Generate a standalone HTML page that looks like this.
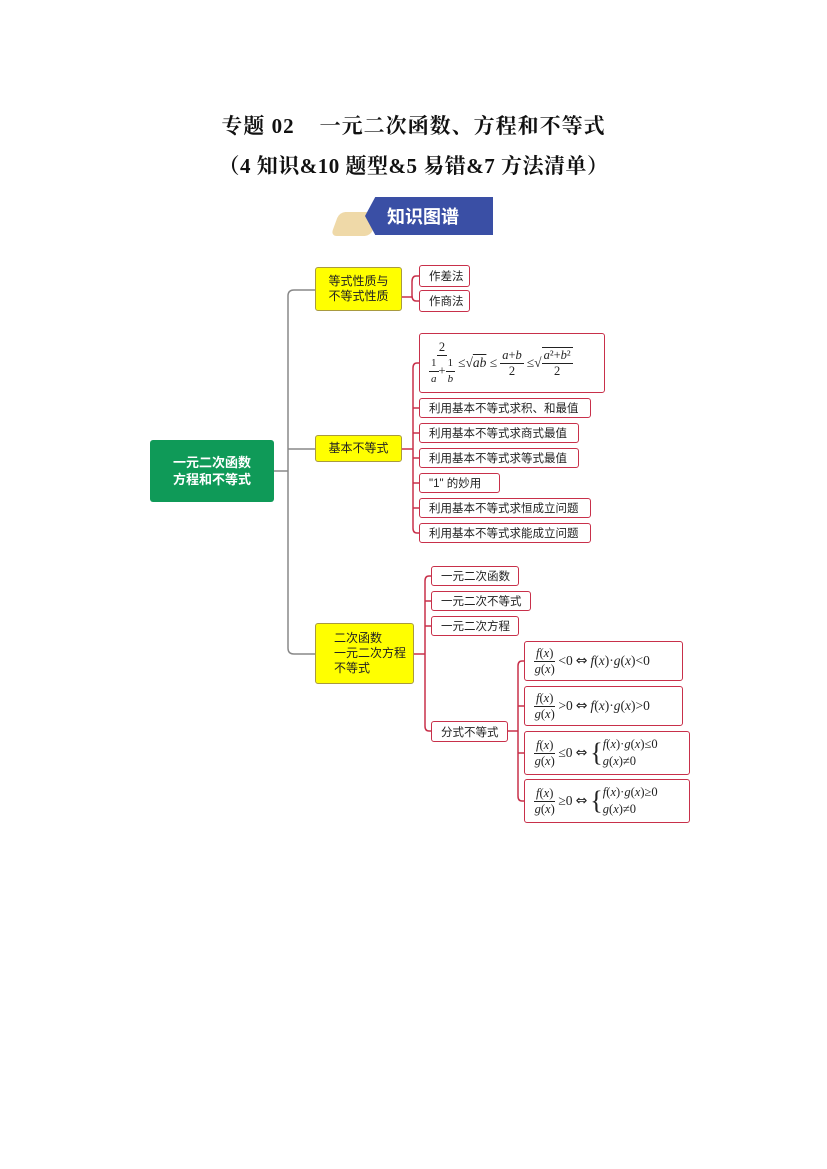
<!DOCTYPE html>
<html><head><meta charset="utf-8"><style>
body{margin:0;width:827px;height:1169px;background:#fff;position:relative;font-family:"Liberation Sans","Noto Sans CJK SC",sans-serif;overflow:hidden}
.a{position:absolute;box-sizing:border-box}
.t{font-family:"Liberation Serif","Noto Serif CJK SC",serif;font-weight:bold;font-size:21px;left:0;width:827px;text-align:center;color:#111}
.y{background:#ffff00;border:1px solid #a89a40;border-radius:3px;font-size:12px;color:#222;display:flex;align-items:center;justify-content:center;text-align:left;line-height:15px}
.r{border:1.5px solid #c8304a;border-radius:3px;background:#fff;font-size:11.5px;color:#222;padding-left:9px;display:flex;align-items:center;white-space:nowrap}
.m{font-family:"Liberation Serif",serif;font-size:13.5px;color:#222;display:flex;align-items:center;white-space:nowrap}
.fr{display:inline-flex;flex-direction:column;align-items:center;vertical-align:middle;margin:0 3px;font-size:12.5px;line-height:15px}
.fr>span:first-child{border-bottom:1px solid #222;padding:0 2px}
.eq{font-family:"DejaVu Sans",sans-serif;font-size:14px;margin:0 3px}
i{font-style:italic}
</style></head><body>
<div class="a t" style="top:110px;letter-spacing:1px">专题 02&nbsp;&nbsp;&nbsp; 一元二次函数、方程和不等式</div>
<div class="a t" style="top:150px;letter-spacing:0.5px">（4 知识&amp;10 题型&amp;5 易错&amp;7 方法清单）</div>
<!-- banner -->
<div class="a" style="left:335px;top:212px;width:40px;height:24px;background:#efd9a8;border-radius:6px;transform:skewX(-20deg)"></div>
<div class="a" style="left:365px;top:197px;width:128px;height:38px;background:#3a4fa5;clip-path:polygon(8% 0,100% 0,100% 100%,8% 100%,0 50%);color:#fff;font-weight:bold;font-size:18px;display:flex;align-items:center;padding-left:22px">知识图谱</div>

<svg class="a" style="left:0;top:0" width="827" height="1169">
<g fill="none" stroke="#888" stroke-width="1.5">
<path d="M274 471H288M315 290H294Q288 290 288 296V648Q288 654 294 654H315M288 449H315"/>
</g>
<g fill="none" stroke="#c8304a" stroke-width="1.5">
<path d="M402 297H412M419 276H416Q412 276 412 282V295Q412 301 416 301H419"/>
<path d="M402 449H413M419 363H417Q413 363 413 368V528Q413 533 417 533H419M413 408H419M413 433H419M413 458H419M413 483H419M413 508H419"/>
<path d="M414 654H425M431 576H429Q425 576 425 581V726Q425 731 429 731H431M425 601H431M425 626H431"/>
<path d="M508 731H518M524 661H522Q518 661 518 666V796Q518 801 522 801H524M518 706H524M518 753H524"/>
</g>
</svg>

<div class="a" style="left:150px;top:440px;width:124px;height:62px;background:#0f9a58;border-radius:3px;color:#fff;font-weight:bold;font-size:13px;line-height:17px;display:flex;align-items:center;justify-content:center;text-align:right">一元二次函数<br>方程和不等式</div>

<div class="a y" style="left:315px;top:267px;width:87px;height:44px">等式性质与<br>不等式性质</div>
<div class="a y" style="left:315px;top:435px;width:87px;height:27px">基本不等式</div>
<div class="a y" style="left:315px;top:623px;width:99px;height:61px;justify-content:flex-start;padding-left:18px">二次函数<br>一元二次方程<br>不等式</div>

<div class="a r" style="left:419px;top:265px;width:51px;height:22px">作差法</div>
<div class="a r" style="left:419px;top:290px;width:51px;height:22px">作商法</div>

<div class="a r m" style="left:419px;top:333px;width:186px;height:60px;padding-left:6px">
<span class="fr"><span>2</span><span><span class="fr" style="font-size:11px;margin:0"><span>1</span><i>a</i></span>+<span class="fr" style="font-size:11px;margin:0"><span>1</span><i>b</i></span></span></span>≤√<span style="text-decoration:overline"><i>ab</i></span>&nbsp;≤<span class="fr"><span><i>a</i>+<i>b</i></span><span>2</span></span>≤√<span class="fr" style="border-top:1px solid #222;margin-left:0"><span><i>a</i>²+<i>b</i>²</span><span>2</span></span></div>
<div class="a r" style="left:419px;top:398px;width:172px;height:20px">利用基本不等式求积、和最值</div>
<div class="a r" style="left:419px;top:423px;width:160px;height:20px">利用基本不等式求商式最值</div>
<div class="a r" style="left:419px;top:448px;width:160px;height:20px">利用基本不等式求等式最值</div>
<div class="a r" style="left:419px;top:473px;width:81px;height:20px">"1" 的妙用</div>
<div class="a r" style="left:419px;top:498px;width:172px;height:20px">利用基本不等式求恒成立问题</div>
<div class="a r" style="left:419px;top:523px;width:172px;height:20px">利用基本不等式求能成立问题</div>

<div class="a r" style="left:431px;top:566px;width:88px;height:20px">一元二次函数</div>
<div class="a r" style="left:431px;top:591px;width:100px;height:20px">一元二次不等式</div>
<div class="a r" style="left:431px;top:616px;width:88px;height:20px">一元二次方程</div>
<div class="a r" style="left:431px;top:721px;width:77px;height:21px">分式不等式</div>

<div class="a r m" style="left:524px;top:641px;width:159px;height:40px;padding-left:6px"><span class="fr"><span><i>f</i>(<i>x</i>)</span><span><i>g</i>(<i>x</i>)</span></span>&lt;0<span class="eq">⇔</span><i>f</i>(<i>x</i>)·<i>g</i>(<i>x</i>)&lt;0</div>
<div class="a r m" style="left:524px;top:686px;width:159px;height:40px;padding-left:6px"><span class="fr"><span><i>f</i>(<i>x</i>)</span><span><i>g</i>(<i>x</i>)</span></span>&gt;0<span class="eq">⇔</span><i>f</i>(<i>x</i>)·<i>g</i>(<i>x</i>)&gt;0</div>
<div class="a r m" style="left:524px;top:731px;width:166px;height:44px;padding-left:6px"><span class="fr"><span><i>f</i>(<i>x</i>)</span><span><i>g</i>(<i>x</i>)</span></span>≤0<span class="eq">⇔</span><span style="font-size:26px;font-weight:lighter">{</span><span style="display:inline-flex;flex-direction:column;line-height:17px;font-size:12.5px"><span><i>f</i>(<i>x</i>)·<i>g</i>(<i>x</i>)≤0</span><span><i>g</i>(<i>x</i>)≠0</span></span></div>
<div class="a r m" style="left:524px;top:779px;width:166px;height:44px;padding-left:6px"><span class="fr"><span><i>f</i>(<i>x</i>)</span><span><i>g</i>(<i>x</i>)</span></span>≥0<span class="eq">⇔</span><span style="font-size:26px;font-weight:lighter">{</span><span style="display:inline-flex;flex-direction:column;line-height:17px;font-size:12.5px"><span><i>f</i>(<i>x</i>)·<i>g</i>(<i>x</i>)≥0</span><span><i>g</i>(<i>x</i>)≠0</span></span></div>
</body></html>
